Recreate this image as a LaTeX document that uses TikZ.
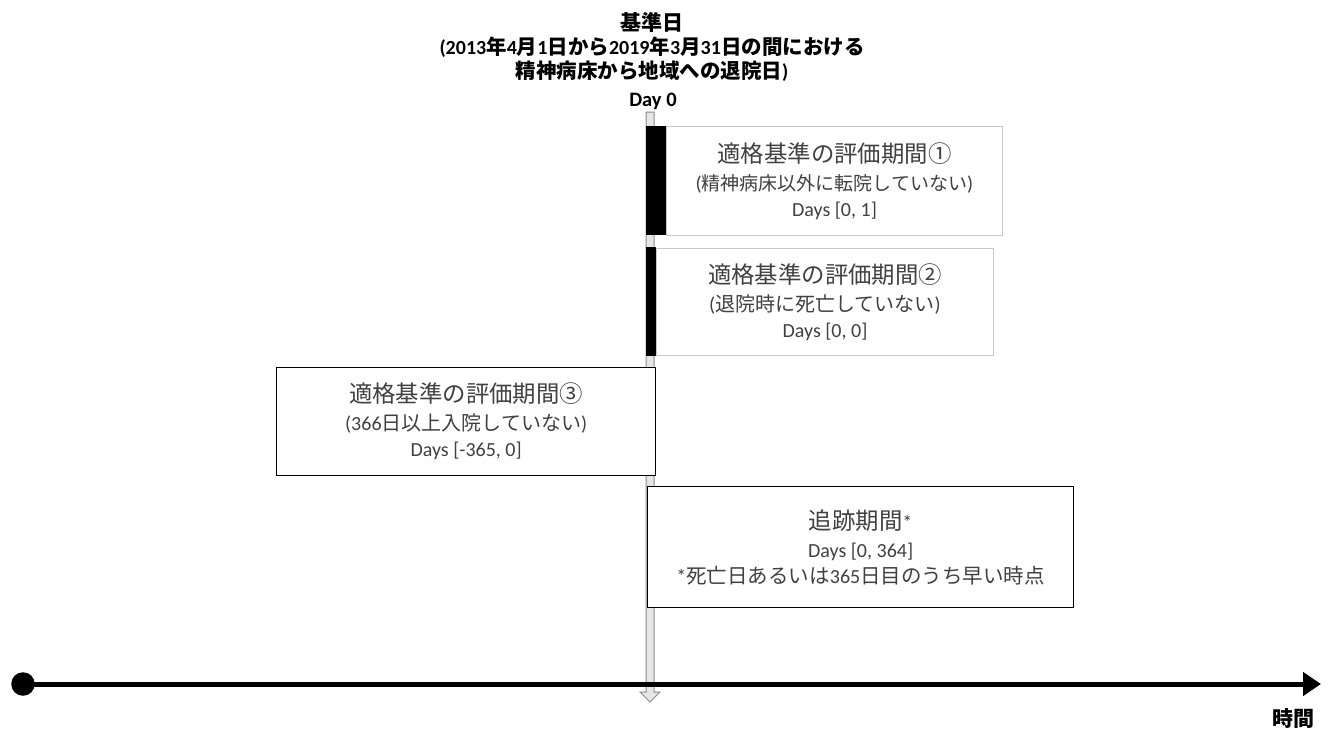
\documentclass[tikz,border=0pt]{standalone}
\usepackage{fontspec}
\setmainfont[Numbers=Lining]{Carlito}
\newfontfamily\jp{Noto Sans CJK JP}
\usetikzlibrary{arrows.meta,positioning}
\definecolor{tcol}{HTML}{404040}
\definecolor{lgray}{HTML}{C8C8C8}
\definecolor{agray}{HTML}{E6E6E6}
\definecolor{adark}{HTML}{8C8C8C}
\newcommand\J[2][20]{{\jp\fontsize{#1}{26}\selectfont #2}}
\tikzset{
  pbox/.style={draw=black, line width=1.3pt, fill=white, anchor=north west, inner sep=0pt, text=tcol, align=center, font=\fontsize{20}{26}\selectfont},
  qbox/.style={pbox, draw=lgray, line width=1pt},
  tline/.style={line width=5pt, -{Triangle[length=18pt,width=23pt]}},
}

\begin{document}
\begin{tikzpicture}[x=1pt, y=-1pt]
  \useasboundingbox (0,0) rectangle (1332,729);
  % day 0 arrow
  \draw[fill=agray, draw=adark, line width=1pt] (646,112) -- (654,112) -- (654,692) -- (660,692) -- (650,702) -- (640,692) -- (646,692) -- cycle;
  \node[font=\bfseries\fontsize{20.5}{22}\selectfont] (day0) at (653,101) {Day 0};
  \node[align=center, font=\bfseries\fontsize{20}{24}\selectfont] (base) at (652,47) {\J[21]{基準日}\\(2013\J[20.5]{年}4\J[20.5]{月}1\J[20.5]{日から}2019\J[20.5]{年}3\J[20.5]{月}31\J[20.5]{日の間における}\\\J[20.5]{精神病床から地域への退院日})};
  % bars
  \fill (646,126) rectangle (666,235);
  \fill (646,247) rectangle (656,356);
  % boxes
  \node[qbox, minimum width=336, minimum height=109] (e1) at (666,126) {\J[23.4]{適格基準の評価期間①}\\[2pt](\J[19]{精神病床以外に転院していない})\\Days [0, 1]};
  \node[qbox, minimum width=337, minimum height=107] (e2) at (656,248) {\J[23.4]{適格基準の評価期間②}\\[2pt](\J{退院時に死亡していない})\\Days [0, 0]};
  \node[pbox, minimum width=379, minimum height=108] (e3) at (276,367) {\J[23.4]{適格基準の評価期間③}\\[2pt](366\J{日以上入院していない})\\Days [-365, 0]};
  \node[pbox, minimum width=426, minimum height=121] (fu) at (647,486) {\J[23.4]{追跡期間}*\\[2pt]Days [0, 364]\\*\J[20.5]{死亡日あるいは}365\J[20.5]{日目のうち早い時点}};
  % time axis
  \node[circle, fill=black, inner sep=0pt, minimum size=23.5pt] (t0) at (23,684) {};
  \coordinate (t1) at (1321,684);
  \draw[tline] (t0.center) -- (t1);
  \node[font=\bfseries] (time) at (1293,718) {\J[21]{時間}};
\end{tikzpicture}
\end{document}
